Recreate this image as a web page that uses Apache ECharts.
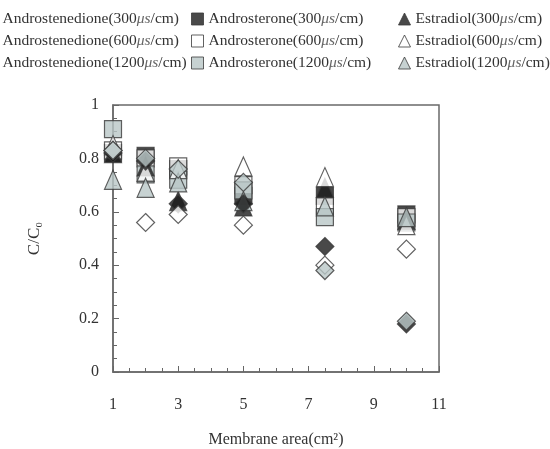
<!DOCTYPE html>
<html>
<head>
<meta charset="utf-8">
<script src="https://cdn.jsdelivr.net/npm/echarts@6/dist/echarts.min.js"></script>
<style>
  html, body { margin: 0; padding: 0; background: #fff; }
  #chart { width: 550px; height: 449px; }
</style>
</head>
<body>
<div id="chart"></div>
<script>
// membrane area (cm2) and C/C0
var areas = [1, 2, 3, 5, 7.5, 10];

var dione300  = [0.82, 0.79, 0.63, 0.63, 0.47, 0.18];
var dione600  = [0.83, 0.56, 0.59, 0.55, 0.40, 0.46];
var dione1200 = [0.83, 0.80, 0.76, 0.71, 0.38, 0.19];

var sterone300  = [0.82, 0.81, 0.76, 0.66, 0.66, 0.59];
var sterone600  = [0.83, 0.80, 0.77, 0.70, 0.62, 0.58];
var sterone1200 = [0.91, 0.74, 0.72, 0.68, 0.58, 0.56];

var estra300  = [0.82, 0.77, 0.64, 0.62, 0.69, 0.57];
var estra600  = [0.85, 0.75, 0.76, 0.77, 0.73, 0.55];
var estra1200 = [0.72, 0.69, 0.71, 0.64, 0.62, 0.58];

var yTicks = [0, 0.2, 0.4, 0.6, 0.8, 1];
var xTicks = [1, 3, 5, 7, 9, 11];

var BLACK = '#1c1c1c', WHITE = '#ffffff', GRAY = '#b9c7c7', EDGE = '#3a3a3a';
var FONT = '"Liberation Serif", "DejaVu Serif", serif';

function pairs(vals) {
  return areas.map(function (a, i) { return [a, vals[i]]; });
}

function mk(name, vals, symbol, fill, size) {
  return {
    name: name,
    type: 'scatter',
    data: pairs(vals),
    symbol: symbol,
    symbolSize: size,
    itemStyle: { color: fill, borderColor: EDGE, borderWidth: 1.2 },
    emphasis: { disabled: true }
  };
}

function legendName(prefix, cond) {
  return prefix + '(' + cond + 'μs/cm)';
}

var names = {
  d300: legendName('Androstenedione', 300), d600: legendName('Androstenedione', 600), d1200: legendName('Androstenedione', 1200),
  s300: legendName('Androsterone', 300), s600: legendName('Androsterone', 600), s1200: legendName('Androsterone', 1200),
  e300: legendName('Estradiol', 300), e600: legendName('Estradiol', 600), e1200: legendName('Estradiol', 1200)
};

function legendCol(left, data) {
  return {
    left: left, top: 6, orient: 'vertical', itemGap: 6,
    itemWidth: 12, itemHeight: 12, itemStyle: { borderWidth: 1 }, data: data,
    formatter: function (n) {
      var m = n.match(/^(.*\()(\d+)μs(\/cm\))$/);
      return '{n|' + m[1] + m[2] + '}{i|μs}{n|' + m[3] + '}';
    },
    textStyle: {
      rich: {
        n: { fontFamily: FONT, fontSize: 15.5, color: '#333' },
        i: { fontFamily: FONT, fontSize: 15.5, fontStyle: 'italic', color: '#666' }
      }
    }
  };
}

var chart = echarts.init(document.getElementById('chart'));

chart.setOption({
  animation: false,
  backgroundColor: '#fff',
  legend: [
    legendCol(-20, [names.d300, names.d600, names.d1200]),
    legendCol(186, [names.s300, names.s600, names.s1200]),
    legendCol(393, [names.e300, names.e600, names.e1200])
  ],
  grid: {
    left: 113, right: 111, top: 105, bottom: 77, outerBoundsMode: 'none',
    show: true, borderColor: '#6a6a6a', borderWidth: 1.5
  },
  xAxis: {
    type: 'value', min: 1, max: 11, interval: 2,
    name: 'Membrane area(cm²)', nameLocation: 'middle', nameGap: 60,
    nameTextStyle: { fontFamily: FONT, fontSize: 16, color: '#333' },
    axisLine: { lineStyle: { color: '#6a6a6a', width: 1.5 } },
    axisTick: { inside: true, length: 6, lineStyle: { color: '#666' } },
    minorTick: { show: true, splitNumber: 4, length: 4, lineStyle: { color: '#666' } },
    splitLine: { show: false },
    axisLabel: {
      margin: 25, fontFamily: FONT, fontSize: 16, color: '#333',
      formatter: function (v) { return xTicks.indexOf(v) >= 0 ? String(v) : ''; }
    }
  },
  yAxis: {
    type: 'value', min: 0, max: 1, interval: 0.2,
    name: 'C/C₀', nameLocation: 'middle', nameGap: 70, nameRotate: 90,
    nameTextStyle: { fontFamily: FONT, fontSize: 17, color: '#333' },
    axisLine: { lineStyle: { color: '#6a6a6a', width: 1.5 } },
    axisTick: { inside: true, length: 6, lineStyle: { color: '#666' } },
    minorTick: { show: true, splitNumber: 4, length: 4, lineStyle: { color: '#666' } },
    splitLine: { show: false },
    axisLabel: {
      margin: 14, fontFamily: FONT, fontSize: 16, color: '#333',
      formatter: function (v) {
        var t = yTicks.filter(function (k) { return Math.abs(k - v) < 1e-6; });
        return t.length ? String(t[0]) : '';
      }
    }
  },
  series: [
    mk(names.s300, sterone300, 'rect', BLACK, 17),
    mk(names.s600, sterone600, 'rect', WHITE, 17),
    mk(names.s1200, sterone1200, 'rect', GRAY, 17),
    mk(names.e300, estra300, 'triangle', BLACK, [17, 19]),
    mk(names.e600, estra600, 'triangle', WHITE, [17, 19]),
    mk(names.e1200, estra1200, 'triangle', GRAY, [17, 19]),
    mk(names.d300, dione300, 'diamond', BLACK, 18),
    mk(names.d600, dione600, 'diamond', WHITE, 18),
    mk(names.d1200, dione1200, 'diamond', GRAY, 18)
  ]
});
</script>
</body>
</html>
